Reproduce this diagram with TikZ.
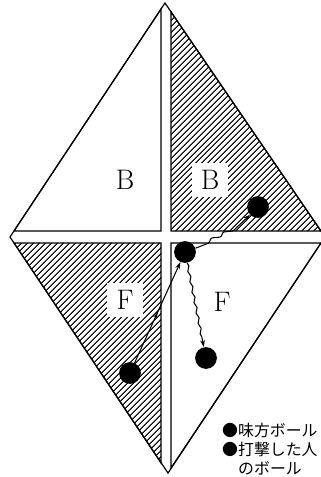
\documentclass[tikz,border=0pt]{standalone}
\usepackage{fontspec}
\newfontfamily\jpfont{Noto Sans CJK JP}
\usetikzlibrary{patterns.meta,decorations.pathmorphing,decorations.markings,arrows.meta}
\tikzstyle{quad}=[draw=black, line width=1pt, line join=miter]
\tikzstyle{hatched}=[quad, pattern={Lines[angle=45,distance=4pt,line width=1.1pt]}]
\tikzstyle{ball}=[circle, fill=black, inner sep=0pt, minimum size=18.5pt]
\tikzstyle{letter}=[font=\fontsize{24}{24}\selectfont]
\tikzstyle{boxed}=[letter, fill=white, minimum width=31pt, minimum height=29pt]
\tikzstyle{track}=[line width=0.9pt, -{Stealth[length=6pt,width=4pt]}]
\tikzstyle{legend}=[font=\jpfont\fontsize{13.5}{16}\selectfont, anchor=west, inner sep=0pt]

\begin{document}
\begin{tikzpicture}[x=0.85pt, y=-0.85pt]
	\clip (0,0) rectangle (321,477);
	\fill[white] (0,0) rectangle (321,477);
	% four quarters of the court
	\draw[quad] (161,9) -- (161,231) -- (14,231) -- cycle;
	\draw[hatched] (171,12) -- (171,231) -- (321,231) -- cycle;
	\draw[hatched] (14,243) -- (161,243) -- (161,463) -- cycle;
	\draw[quad] (171,243) -- (321,243) -- (171,468) -- cycle;
	% outline
	\draw[quad] (165,3) -- (10,237) -- (168,473) -- (325,237) -- cycle;

	\node[letter] (b1) at (125,180) {B};
	\node[boxed] (b2) at (210,180) {B};
	\node[boxed] (f1) at (125,300) {F};
	\node[letter] (f2) at (222,302) {F};

	\node[ball] (c) at (185,252) {};
	\node[ball] (tr) at (258,207) {};
	\node[ball] (bl) at (130,373) {};
	\node[ball] (br) at (206,358) {};

	\draw[track, rounded corners=1pt] (c.20) -- (209,243) -- (211,238) -- (221,237) -- (223,232) -- (233,231) -- (tr);
	\draw[track, decorate, decoration={snake, amplitude=0.9pt, segment length=9pt, post length=8pt}] (c) -- (br);
	\draw[track, postaction={decorate}, decoration={markings, mark=at position 0.5 with {\arrow{Stealth[length=5pt,width=3.5pt]}}}] (bl) -- (c);

	\node[legend] (own) at (222,430) {●味方ボール};
	\node[legend] (hit) at (222,449) {●打撃した人};
	\node[legend] (its) at (238,468) {のボール};
\end{tikzpicture}
\end{document}
